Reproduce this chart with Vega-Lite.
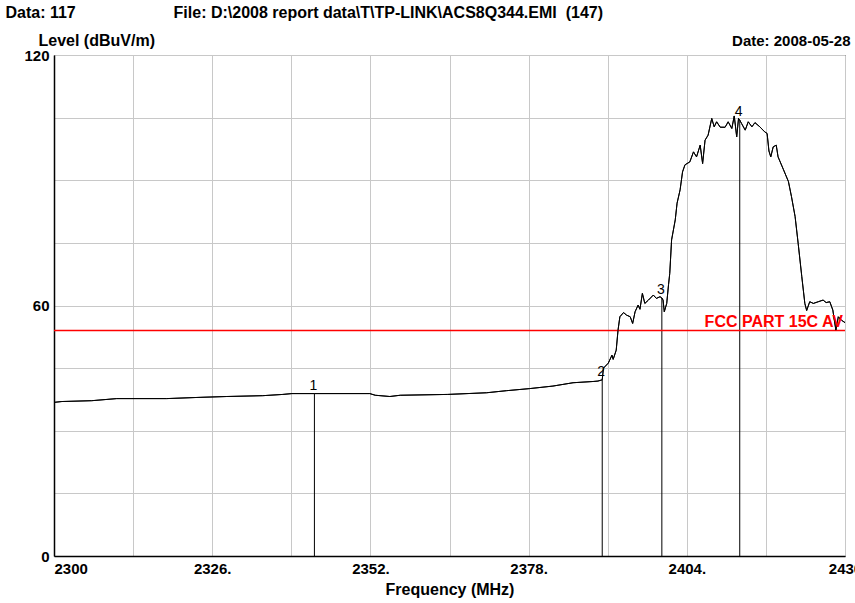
{
  "$schema": "https://vega.github.io/schema/vega-lite/v6.json",
  "width": 791,
  "height": 501,
  "autosize": "none",
  "padding": {"left": 54, "top": 55, "right": 10, "bottom": 47},
  "background": "white",
  "config": {
    "view": {"stroke": "#000", "strokeWidth": 1},
    "font": "Liberation Sans"
  },
  "datasets": {
    "trace": [
      {"f": 2300.0, "level": 36.8}, {"f": 2301.3, "level": 37.0}, {"f": 2306.2, "level": 37.2},
      {"f": 2310.3, "level": 37.7}, {"f": 2318.5, "level": 37.7}, {"f": 2324.0, "level": 38.0},
      {"f": 2328.4, "level": 38.2}, {"f": 2334.3, "level": 38.4}, {"f": 2337.6, "level": 38.7},
      {"f": 2339.1, "level": 38.9}, {"f": 2342.8, "level": 38.9}, {"f": 2351.9, "level": 38.9},
      {"f": 2352.8, "level": 38.5}, {"f": 2355.2, "level": 38.2}, {"f": 2356.9, "level": 38.5},
      {"f": 2364.7, "level": 38.7}, {"f": 2371.1, "level": 39.1}, {"f": 2374.4, "level": 39.6},
      {"f": 2378.2, "level": 40.1}, {"f": 2382.0, "level": 40.7}, {"f": 2385.3, "level": 41.5},
      {"f": 2388.6, "level": 41.8}, {"f": 2389.4, "level": 41.9}, {"f": 2390.1, "level": 42.2},
      {"f": 2390.3, "level": 45.0}, {"f": 2391.1, "level": 46.2}, {"f": 2391.7, "level": 48.1},
      {"f": 2391.9, "level": 47.1}, {"f": 2392.4, "level": 49.3}, {"f": 2392.7, "level": 54.1},
      {"f": 2393.0, "level": 57.3}, {"f": 2393.6, "level": 58.3}, {"f": 2394.1, "level": 57.7},
      {"f": 2394.7, "level": 57.3}, {"f": 2395.1, "level": 55.7}, {"f": 2395.5, "level": 58.5},
      {"f": 2396.0, "level": 60.1}, {"f": 2396.3, "level": 59.1}, {"f": 2396.7, "level": 62.9},
      {"f": 2397.1, "level": 60.5}, {"f": 2397.7, "level": 61.3}, {"f": 2398.5, "level": 62.5},
      {"f": 2399.0, "level": 61.7}, {"f": 2399.6, "level": 62.1}, {"f": 2399.9, "level": 61.8},
      {"f": 2400.1, "level": 61.3}, {"f": 2400.3, "level": 58.5}, {"f": 2400.7, "level": 60.5},
      {"f": 2401.0, "level": 65.0}, {"f": 2401.2, "level": 67.7}, {"f": 2401.5, "level": 75.7},
      {"f": 2402.1, "level": 80.5}, {"f": 2402.4, "level": 84.5}, {"f": 2402.9, "level": 87.7},
      {"f": 2403.3, "level": 92.0}, {"f": 2403.7, "level": 93.7}, {"f": 2404.5, "level": 94.4},
      {"f": 2405.1, "level": 96.8}, {"f": 2405.6, "level": 95.6}, {"f": 2406.2, "level": 98.4},
      {"f": 2406.6, "level": 94.0}, {"f": 2407.0, "level": 99.6}, {"f": 2407.5, "level": 100.8},
      {"f": 2408.1, "level": 104.8}, {"f": 2408.5, "level": 102.8}, {"f": 2408.9, "level": 104.0},
      {"f": 2409.5, "level": 102.7}, {"f": 2410.3, "level": 102.7}, {"f": 2410.8, "level": 104.0},
      {"f": 2411.4, "level": 102.4}, {"f": 2411.8, "level": 105.4}, {"f": 2412.2, "level": 100.4},
      {"f": 2412.5, "level": 104.8}, {"f": 2412.7, "level": 104.4}, {"f": 2413.0, "level": 103.6},
      {"f": 2413.6, "level": 102.0}, {"f": 2414.1, "level": 104.0}, {"f": 2414.7, "level": 102.8},
      {"f": 2415.2, "level": 103.8}, {"f": 2416.0, "level": 102.8}, {"f": 2416.8, "level": 101.6},
      {"f": 2417.2, "level": 101.2}, {"f": 2417.5, "level": 97.0}, {"f": 2417.8, "level": 95.6},
      {"f": 2418.2, "level": 98.0}, {"f": 2418.7, "level": 98.4}, {"f": 2419.0, "level": 95.6},
      {"f": 2419.9, "level": 92.5}, {"f": 2420.7, "level": 89.7}, {"f": 2421.2, "level": 86.1},
      {"f": 2421.8, "level": 81.3}, {"f": 2422.3, "level": 74.9}, {"f": 2422.9, "level": 66.9},
      {"f": 2423.4, "level": 60.5}, {"f": 2423.7, "level": 58.8}, {"f": 2424.2, "level": 60.9},
      {"f": 2424.8, "level": 60.5}, {"f": 2425.6, "level": 60.9}, {"f": 2426.4, "level": 61.3},
      {"f": 2426.9, "level": 60.7}, {"f": 2427.5, "level": 60.9}, {"f": 2428.0, "level": 58.9},
      {"f": 2428.5, "level": 54.1}, {"f": 2428.9, "level": 57.3}, {"f": 2429.4, "level": 56.5},
      {"f": 2430.0, "level": 55.9}
    ],
    "markers": [
      {"marker": "1", "f": 2342.8, "level": 38.9},
      {"marker": "2", "f": 2390.1, "level": 42.2},
      {"marker": "3", "f": 2399.9, "level": 61.8},
      {"marker": "4", "f": 2412.7, "level": 104.4}
    ],
    "limit": [{"name": "FCC PART 15C AV", "level": 54}]
  },
  "layer": [
    {
      "data": {"name": "trace"},
      "mark": {"type": "line", "color": "#000", "strokeWidth": 1},
      "encoding": {
        "x": {
          "field": "f", "type": "quantitative",
          "scale": {"domain": [2300, 2430], "nice": false, "zero": false},
          "axis": {
            "orient": "bottom",
            "values": [2300, 2313, 2326, 2339, 2352, 2365, 2378, 2391, 2404, 2417, 2430],
            "labelExpr": "(datum.value - 2300) % 26 == 0 ? ((datum.value == 2300 || datum.value == 2430) ? '' + datum.value : datum.value + '.') : ''",
            "labelAlign": {"condition": {"test": "datum.value == 2300", "value": "left"}, "value": "center"},
            "labelFont": "Liberation Sans", "labelFontSize": 15, "labelFontWeight": "bold", "labelColor": "#000",
            "labelPadding": 5, "labelOverlap": false, "labelBound": false, "labelFlush": false,
            "ticks": false, "domainColor": "#000", "domainWidth": 1.5,
            "grid": true, "gridColor": "#c8c8c8", "gridWidth": 1,
            "title": "Frequency (MHz)", "titleFont": "Liberation Sans", "titleFontSize": 16, "titleFontWeight": "bold", "titleColor": "#000", "titlePadding": 5
          }
        },
        "y": {
          "field": "level", "type": "quantitative",
          "scale": {"domain": [0, 120], "nice": false, "zero": true},
          "axis": {
            "orient": "left",
            "values": [0, 15, 30, 45, 60, 75, 90, 105, 120],
            "labelExpr": "datum.value % 60 == 0 ? '' + datum.value : ''",
            "labelFont": "Liberation Sans", "labelFontSize": 15, "labelFontWeight": "bold", "labelColor": "#000",
            "labelPadding": 5, "labelOverlap": false, "labelBound": false, "labelFlush": false, "labelBaseline": "middle",
            "ticks": false, "domainColor": "#000", "domainWidth": 1.5,
            "grid": true, "gridColor": "#c8c8c8", "gridWidth": 1,
            "title": "Level (dBuV/m)", "titleFont": "Liberation Sans", "titleFontSize": 16, "titleFontWeight": "bold", "titleColor": "#000",
            "titleAngle": 0, "titleAlign": "left", "titleBaseline": "alphabetic", "titleX": -16, "titleY": -10
          }
        }
      }
    },
    {
      "data": {"name": "markers"},
      "mark": {"type": "rule", "color": "#000", "strokeWidth": 1},
      "encoding": {
        "x": {
          "field": "f", "type": "quantitative",
          "axis": {
            "orient": "top", "labels": false, "ticks": false, "domain": false, "grid": false,
            "title": "Data: 117\u00a0\u00a0\u00a0\u00a0\u00a0\u00a0\u00a0\u00a0\u00a0\u00a0\u00a0\u00a0\u00a0\u00a0\u00a0\u00a0\u00a0\u00a0\u00a0\u00a0\u00a0\u00a0File: D:\\2008 report data\\T\\TP-LINK\\ACS8Q344.EMI \u00a0(147)",
            "titleFont": "Liberation Sans", "titleFontSize": 16, "titleFontWeight": "bold", "titleColor": "#000",
            "titleAlign": "left", "titleBaseline": "alphabetic", "titleX": -49, "titleY": -38, "titleAngle": 0
          }
        },
        "y": {"field": "level", "type": "quantitative", "axis": null},
        "y2": {"datum": 0}
      }
    },
    {
      "data": {"name": "limit"},
      "mark": {"type": "rule", "color": "#ff0000", "strokeWidth": 1.5},
      "encoding": {
        "y": {
          "field": "level", "type": "quantitative",
          "axis": {
            "orient": "right", "labels": false, "ticks": false, "domain": false, "grid": false,
            "title": "Date: 2008-05-28",
            "titleFont": "Liberation Sans", "titleFontSize": 15, "titleFontWeight": "bold", "titleColor": "#000",
            "titleAngle": 0, "titleAlign": "right", "titleBaseline": "alphabetic", "titleX": 5, "titleY": -10
          }
        }
      }
    },
    {
      "data": {"name": "trace"},
      "mark": {"type": "line", "color": "#000", "strokeWidth": 1},
      "encoding": {
        "x": {"field": "f", "type": "quantitative", "axis": null},
        "y": {"field": "level", "type": "quantitative", "axis": null}
      }
    },
    {
      "data": {"name": "limit"},
      "mark": {"type": "text", "color": "#ff0000", "font": "Liberation Sans", "fontSize": 16, "fontWeight": "bold", "align": "right", "baseline": "alphabetic", "dx": -2, "dy": -4},
      "encoding": {
        "x": {"datum": 2430, "axis": null},
        "y": {"field": "level", "type": "quantitative", "axis": null},
        "text": {"field": "name"}
      }
    },
    {
      "data": {"name": "markers"},
      "mark": {"type": "text", "color": "#000", "font": "Liberation Sans", "fontSize": 14, "align": "center", "baseline": "alphabetic", "dx": -1, "dy": -4},
      "encoding": {
        "x": {"field": "f", "type": "quantitative", "axis": null},
        "y": {"field": "level", "type": "quantitative", "axis": null},
        "text": {"field": "marker"}
      }
    }
  ],
  "resolve": {"axis": {"x": "independent", "y": "independent"}}
}
